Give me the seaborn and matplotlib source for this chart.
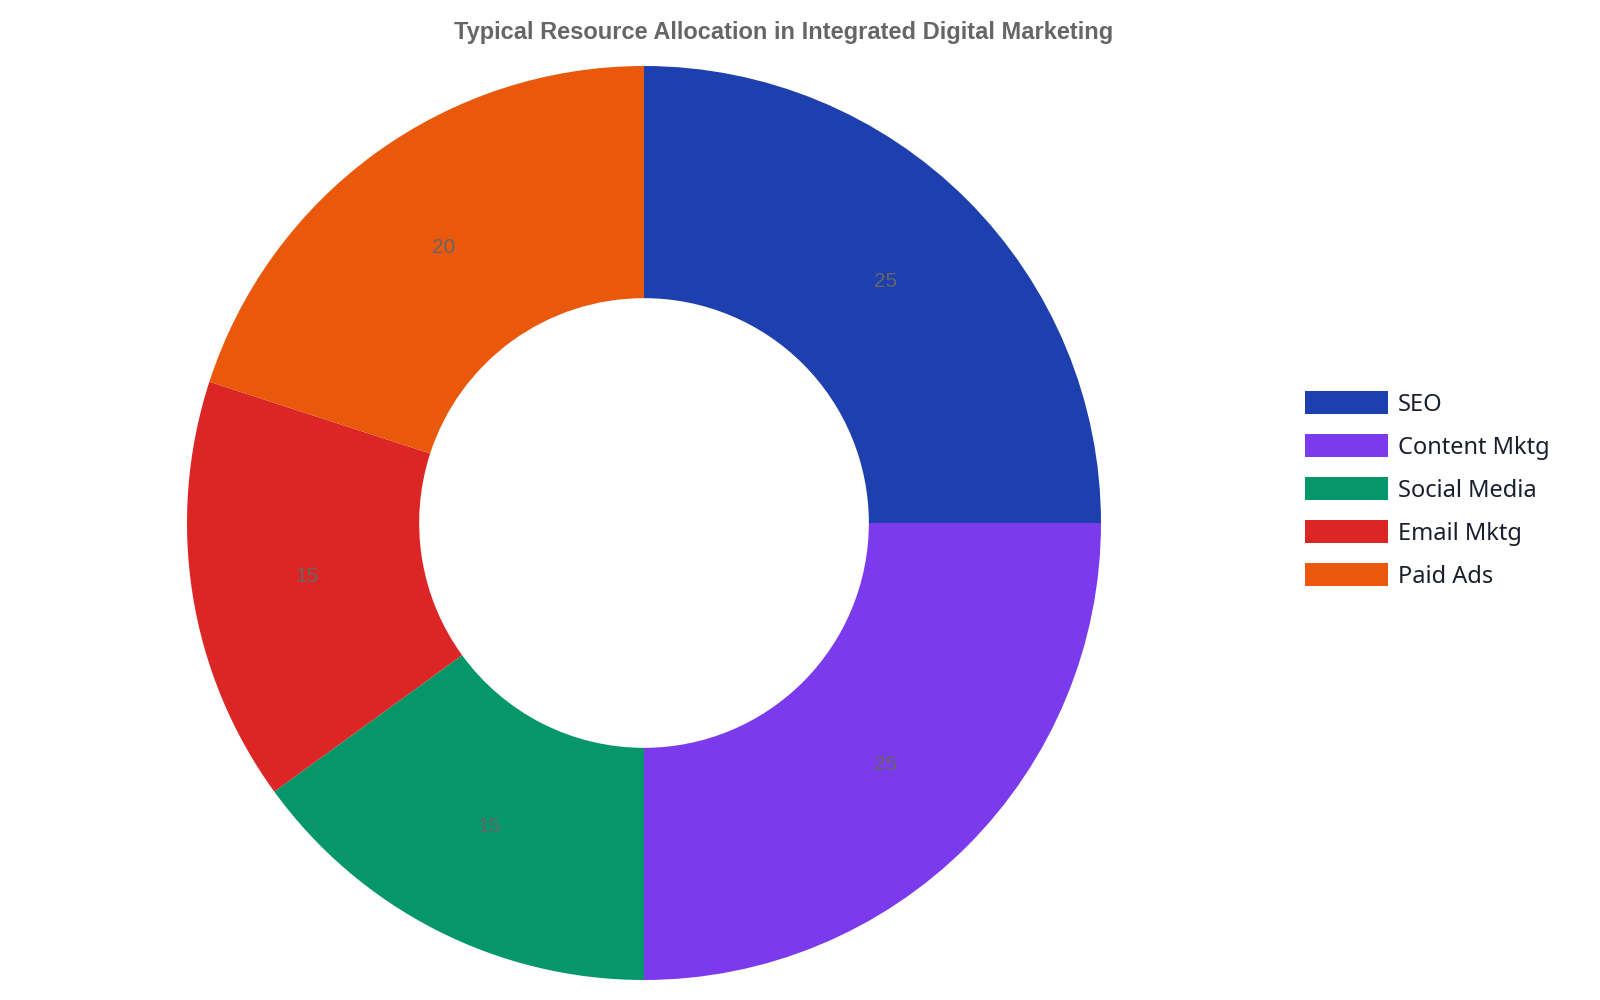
import matplotlib
matplotlib.use("Agg")
import matplotlib.pyplot as plt
import matplotlib.patches as mpatches
import seaborn as sns

channels = ["SEO", "Content Mktg", "Social Media", "Email Mktg", "Paid Ads"]
shares = [25, 25, 15, 15, 20]
colors = ["#1E40AF", "#7C3AED", "#059669", "#DC2626", "#EA580C"]
title = "Typical Resource Allocation in Integrated Digital Marketing"

sns.set_theme(style="white")
plt.rcParams['font.family'] = ['Liberation Sans', 'DejaVu Sans']

fig = plt.figure(figsize=(16, 10), dpi=100)
fig.patch.set_facecolor("white")

# donut axes, centred on the left part of the canvas
ax = fig.add_axes([0.116875, 0.02, 0.57125, 0.914])
wedges, texts, autotexts = ax.pie(
    shares, colors=colors, startangle=90, counterclock=False,
    radius=1.0, wedgeprops=dict(width=0.508, edgecolor="none", linewidth=0),
    autopct=lambda p: f"{p * sum(shares) / 100:.0f}", pctdistance=0.746,
    textprops=dict(color="#666666", fontsize=15, family=['Liberation Sans', 'DejaVu Sans']))
ax.set_xlim(-1, 1)
ax.set_ylim(-1, 1)
ax.set_aspect("equal")
ax.axis("off")

fig.text(0.49, 0.967, title, ha="center", va="center", fontsize=17,
         fontweight="bold", color="#666666",
         family=['Liberation Sans', 'DejaVu Sans'])

handles = [mpatches.Patch(facecolor=c, edgecolor="none", label=l)
           for c, l in zip(colors, channels)]
leg = fig.legend(handles=handles, loc="center left", bbox_to_anchor=(0.8156, 0.51),
                 frameon=False, handlelength=3.5, handleheight=1.1,
                 labelspacing=0.75, handletextpad=0.42, borderaxespad=0,
                 borderpad=0, prop=dict(family=['Noto Sans', 'DejaVu Sans'], size=17))
for t in leg.get_texts():
    t.set_color("#1a1f2e")

fig.savefig("out.png", dpi=100, facecolor="white")
